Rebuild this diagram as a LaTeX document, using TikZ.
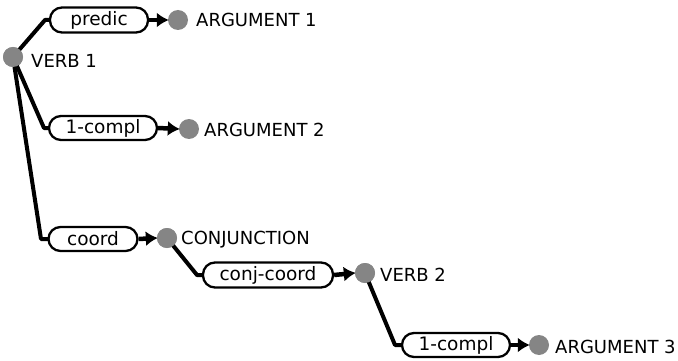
\documentclass[tikz,border=0pt]{standalone}
\usepackage{fontspec}
\setmainfont{DejaVu Sans}
\usetikzlibrary{arrows.meta}
\begin{document}
\begin{tikzpicture}[x=1pt,y=-1pt,
  dot/.style={circle,fill=black!48,inner sep=0pt,minimum size=20pt},
  rel/.style={draw,line width=2.3pt,rounded corners=12pt,minimum height=25pt,inner sep=0pt,font=\fontsize{18.5}{18.5}\selectfont},
  lab/.style={anchor=west,inner sep=0pt,font=\fontsize{18}{18}\selectfont},
  link/.style={line width=4pt,line join=round},
  arr/.style={line width=4.5pt,-{Latex[length=12pt,width=15pt]},shorten >=-1pt}]
\useasboundingbox (0,0) rectangle (678,361);
% dots
\node[dot] (v1) at (13,57) {};
\node[dot] (a1) at (178,20) {};
\node[dot] (a2) at (189,129) {};
\node[dot] (cj) at (167,238) {};
\node[dot] (v2) at (365,273) {};
\node[dot] (a3) at (539,345) {};
% labels
\node[lab] (lv1) at (31,61) {VERB 1};
\node[lab] (la1) at (196,20) {ARGUMENT 1};
\node[lab] (la2) at (204,130) {ARGUMENT 2};
\node[lab] (lcj) at (181,240) {CONJUNCTION};
\node[lab] (lv2) at (380,275) {VERB 2};
\node[lab] (la3) at (555,347) {ARGUMENT 3};
% bends
\coordinate (b1) at (45,20);
\coordinate (b2) at (44,128);
\coordinate (b3) at (41,239);
\coordinate (b4) at (197,275);
\coordinate (b5) at (395,345);
% links
\draw[link] (v1.center) -- (b1) -- (50,20);
\draw[link] (v1.center) -- (b2) -- (50,128);
\draw[link] (v1.center) -- (b3) -- (50,239);
\draw[link] (cj.center) -- (b4) -- (205,275);
\draw[link] (v2.center) -- (b5) -- (404,345);
% boxes
\node[rel,fill=white,minimum width=98pt] (r1) at (99,20) {predic};
\node[rel,fill=white,minimum width=108pt,minimum height=24pt] (r2) at (103,128) {1-compl};
\node[rel,fill=white,minimum width=89pt,minimum height=24pt] (r3) at (93,239) {coord};
\node[rel,fill=white,minimum width=130pt] (r4) at (268,275) {conj-coord};
\node[rel,fill=white,minimum width=108pt,minimum height=24pt] (r5) at (456,345) {1-compl};
% arrows
\draw[arr] (r1.east) -- (a1.west);
\draw[arr] (r2.east) -- (a2.west);
\draw[arr] (r3.east) -- (cj.west);
\draw[arr] (r4.east) -- (v2.west);
\draw[arr] (r5.east) -- (a3.west);
% redraw dots on top
\node[dot] at (v1) {};
\node[dot] at (cj) {};
\node[dot] at (v2) {};
\end{tikzpicture}
\end{document}
